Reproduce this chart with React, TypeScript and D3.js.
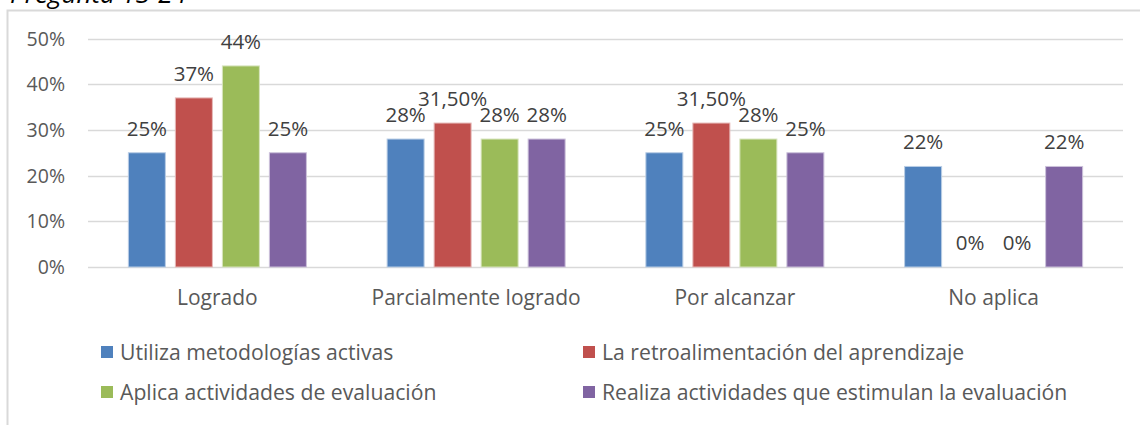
import React from "react";
import * as d3 from "d3";

const categories = ["Logrado", "Parcialmente logrado", "Por alcanzar", "No aplica"];
const seriesNames = [
  "Utiliza metodologías activas",
  "La retroalimentación del aprendizaje",
  "Aplica actividades de evaluación",
  "Realiza actividades que estimulan la evaluación",
];
const utiliza = [25, 28, 25, 22];
const retro = [37, 31.5, 31.5, 0];
const aplica = [44, 28, 28, 0];
const realiza = [25, 28, 25, 22];
const labelsUtiliza = ["25%", "28%", "25%", "22%"];
const labelsRetro = ["37%", "31,50%", "31,50%", "0%"];
const labelsAplica = ["44%", "28%", "28%", "0%"];
const labelsRealiza = ["25%", "28%", "25%", "22%"];
const colors = ["#4F81BD", "#C0504D", "#9BBB59", "#8064A2"];
const strokes = ["#B9CDE5", "#E6B9B8", "#D7E4BD", "#CCC1DA"];
const yTicks = [0, 10, 20, 30, 40, 50];
const title = "Pregunta 13-24";

const values = [utiliza, retro, aplica, realiza];
const labels = [labelsUtiliza, labelsRetro, labelsAplica, labelsRealiza];

const FONT = "'Open Sans', sans-serif";

export default function App() {
  const W = 1140, H = 425;
  const x0 = d3.scaleBand<string>().domain(categories).range([88, 1123]).paddingInner(0.312).paddingOuter(0.156);
  const x1 = d3.scaleBand<number>().domain([0, 1, 2, 3]).range([0, x0.bandwidth()]).paddingInner(0.213).paddingOuter(0);
  const y = d3.scaleLinear().domain([0, 50]).range([267, 38.5]);

  const legendPos = [
    { x: 101, y: 352 },
    { x: 583, y: 352 },
    { x: 101, y: 392 },
    { x: 583, y: 392 },
  ];

  return (
    <div style={{ position: "absolute", left: 0, top: 0 }}>
      <svg width={W} height={H} style={{ display: "block" }}>
        <rect x={0} y={0} width={W} height={H} fill="#fff" />
        <text x={10} y={2.5} fontFamily={FONT} fontStyle="italic" fontSize={26} fill="#000">{title}</text>
        <path d={`M7.5,${H + 2} V10.5 H${W + 2}`} fill="none" stroke="#D9D9D9" strokeWidth={2} />
        {yTicks.map((t) => (
          <g key={t}>
            <line x1={88} x2={1123} y1={Math.round(y(t)) + 0.5} y2={Math.round(y(t)) + 0.5} stroke="#D9D9D9" strokeWidth={1.3} />
            <text x={65} y={y(t) + 7} textAnchor="end" fontFamily={FONT} fontSize={19.5} fill="#595959">{`${t}%`}</text>
          </g>
        ))}
        {categories.map((c, ci) => (
          <g key={c}>
            {values.map((vals, si) => {
              const bx = (x0(c) as number) + (x1(si) as number);
              const bw = x1.bandwidth();
              const v = vals[ci];
              return (
                <g key={si}>
                  {v > 0 && (
                    <rect x={bx} y={y(v)} width={bw} height={y(0) - y(v)} fill={colors[si]} stroke={strokes[si]} strokeWidth={1} />
                  )}
                  <text x={bx + bw / 2} y={y(v) - 17} textAnchor="middle" fontFamily={FONT} fontSize={20.5} fill="#404040">{labels[si][ci]}</text>
                </g>
              );
            })}
            <text x={(x0(c) as number) + x0.bandwidth() / 2} y={305} textAnchor="middle" fontFamily={FONT} fontSize={21} fill="#595959">{c}</text>
          </g>
        ))}
        {seriesNames.map((s, i) => (
          <g key={s}>
            <rect x={legendPos[i].x} y={legendPos[i].y - 6} width={12} height={12} fill={colors[i]} />
            <text x={legendPos[i].x + 19} y={legendPos[i].y + 7.5} fontFamily={FONT} fontSize={21.2} fill="#595959">{s}</text>
          </g>
        ))}
      </svg>
    </div>
  );
}
